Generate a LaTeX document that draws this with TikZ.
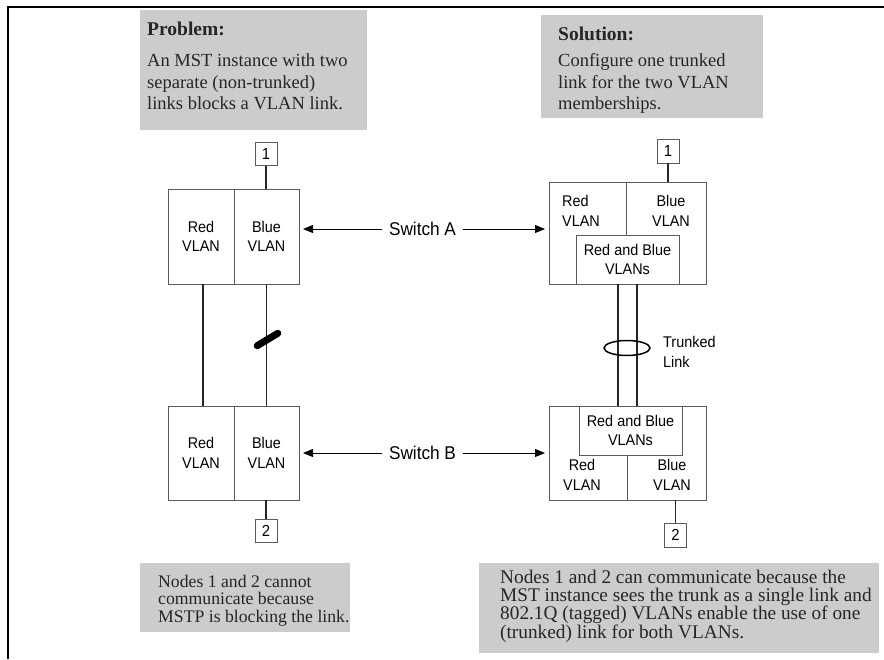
\documentclass[tikz,border=0pt]{standalone}
\usepackage{fontspec}
\setmainfont{Liberation Serif}
\newfontfamily\labelfont[FakeStretch=0.93]{Liberation Sans}
\usetikzlibrary{arrows.meta,calc}
\definecolor{boxgray}{RGB}{204,204,204}
\definecolor{edgegray}{RGB}{90,90,90}
\begin{document}
\begin{tikzpicture}[x=1pt,y=-1pt,
  lbl/.style={font=\labelfont\fontsize{15.5}{19.5}\selectfont, align=center, inner sep=0pt},
  bigl/.style={font=\labelfont\fontsize{18.5}{22}\selectfont, inner sep=0pt, inner xsep=7pt},
  part/.style={draw=edgegray, line width=0.9pt, inner sep=0pt, outer sep=0pt, align=center,
    font=\labelfont\fontsize{15.5}{19.5}\selectfont},
  endnode/.style={draw=edgegray, line width=0.9pt, inner sep=0pt, outer sep=0pt,
    minimum width=22pt, minimum height=23pt, font=\labelfont\fontsize{16}{18}\selectfont},
  link/.style={line width=1.6pt, black!85},
  pointer/.style={line width=0.8pt, -{Triangle[length=10pt,width=8pt]}, shorten >=4pt},
  note/.style={anchor=north west, align=left, inner sep=0pt, text=black!85},
]
\useasboundingbox (0,0) rectangle (884,659);

% page frame
\draw[line width=2.5pt] (8,659) -- (8,7) -- (884,7);

% caption panels
\fill[boxgray] (140,10) rectangle (367,130);
\fill[boxgray] (541,15) rectangle (763,118);
\fill[boxgray] (140,563) rectangle (350,632);
\fill[boxgray] (479,563) rectangle (879,653);

\node[note, font=\fontsize{18.5}{21.5}\selectfont] (probtext) at (147,21.5)
  {{\bfseries\fontsize{19.5}{21.5}\selectfont Problem:}\\[10pt]
   An MST instance with two\\ separate (non-trunked)\\ links blocks a VLAN link.};
\node[note, font=\fontsize{18.5}{21.5}\selectfont] (soltext) at (558,27)
  {{\bfseries\fontsize{19.5}{21.5}\selectfont Solution:}\\[4.5pt]
   Configure one trunked\\ link for the two VLAN\\ memberships.};
\node[note, font=\fontsize{17.7}{17.5}\selectfont] (blocktext) at (158,575)
  {Nodes 1 and 2 cannot\\ communicate because\\ MSTP is blocking the link.};
\node[note, font=\fontsize{19.3}{18.2}\selectfont] (trunktext) at (500,570)
  {Nodes 1 and 2 can communicate because the\\ MST instance sees the trunk as a single link and\\
   802.1Q (tagged) VLANs enable the use of one\\ (trunked) link for both VLANs.};

% left side: two separate links
\node[part, minimum width=66pt, minimum height=95pt] (aRed)  at (201,236.5) {Red\\VLAN};
\node[part, minimum width=65pt, minimum height=95pt] (aBlue) at (266.5,236.5) {Blue\\VLAN};
\node[part, minimum width=66pt, minimum height=94pt] (bRed)  at (201,453) {Red\\VLAN};
\node[part, minimum width=65pt, minimum height=94pt] (bBlue) at (266.5,453) {Blue\\VLAN};
\node[endnode] (n1l) at (266,154) {1};
\node[endnode] (n2l) at (266,530.5) {2};
\draw[link] (n1l.south) -- (n1l.south |- aBlue.north);
\draw[link] (n2l.north) -- (n2l.north |- bBlue.south);
\draw[link] ($(aRed.south)+(2,0)$) -- ($(bRed.north)+(2,0)$);
\draw[link] (aBlue.south) -- (bBlue.north);
% blocked port on the blue link
\coordinate (blk) at (267.5,339.5);
\draw[line width=7pt, line cap=round] ($(blk)+(-10.3,6.2)$) -- ($(blk)+(10.3,-6.2)$);

% right side: one trunked link
\node[part, minimum width=157pt, minimum height=102pt] (sA) at (627.5,233) {};
\node[part, minimum width=103pt, minimum height=49pt] (aRB) at (627.5,259.5) {Red and Blue\\VLANs};
\draw[draw=edgegray, line width=0.9pt] (626,182) -- (626,235);
\node[lbl, anchor=base west, align=left] (aRedR) at (562,226) {Red\\VLAN};
\node[lbl, anchor=base] (aBlueR) at (671,226) {Blue\\VLAN};

\node[part, minimum width=157pt, minimum height=94pt] (sB) at (627.5,453) {};
\node[part, minimum width=103pt, minimum height=49pt] (bRB) at (630.5,430.5) {Red and Blue\\VLANs};
\draw[draw=edgegray, line width=0.9pt] (627,455) -- (627,500);
\node[lbl, anchor=base] (bRedR) at (582,490) {Red\\VLAN};
\node[lbl, anchor=base] (bBlueR) at (672,490) {Blue\\VLAN};

\node[endnode, minimum height=24pt] (n1r) at (668,151) {1};
\node[endnode, minimum height=24pt] (n2r) at (675.5,535) {2};
\draw[link] (n1r.south) -- (n1r.south |- sA.north);
\draw[link] (n2r.north) -- (n2r.north |- sB.south);

\coordinate (t1) at ($(aRB.south)+(-9.5,0)$);
\coordinate (t2) at ($(aRB.south)+(9.5,0)$);
\draw[link] (t1) -- (t1 |- bRB.north);
\draw[link] (t2) -- (t2 |- bRB.north);
\draw[line width=1.5pt] (627,348) ellipse [x radius=23pt, y radius=7.5pt];
\node[lbl, anchor=base west, align=left] (trunklbl) at (663,367) {Trunked\\Link};

% switch labels with pointers
\node[bigl] (swA) at (422.5,229) {Switch A};
\node[bigl] (swB) at (422.5,453) {Switch B};
\draw[pointer] (swA.west) -- (swA.west -| aBlue.east);
\draw[pointer] (swA.east) -- (swA.east -| sA.west);
\draw[pointer] (swB.west) -- (swB.west -| bBlue.east);
\draw[pointer] (swB.east) -- (swB.east -| sB.west);
\end{tikzpicture}
\end{document}
